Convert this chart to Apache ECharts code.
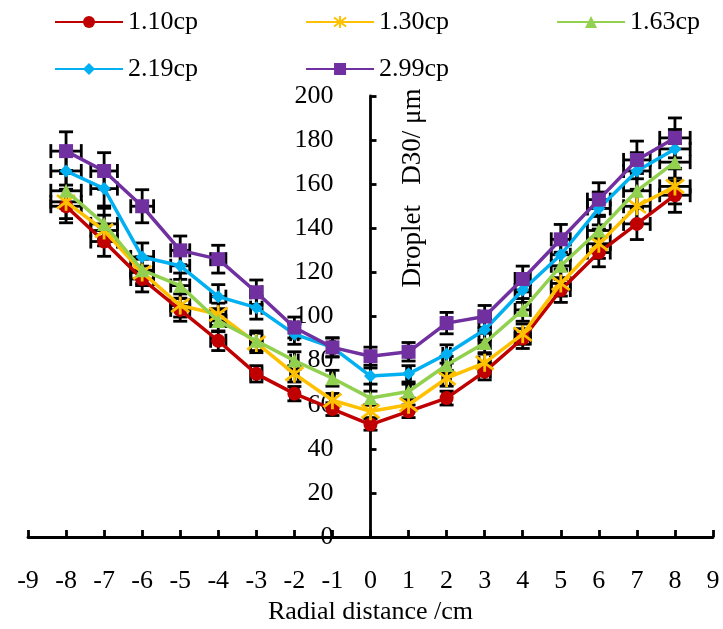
<!DOCTYPE html>
<html>
<head>
<meta charset="utf-8">
<script src="https://cdn.jsdelivr.net/npm/echarts@6/dist/echarts.min.js"></script>
<style>html,body{margin:0;padding:0;background:#fff;}#c{width:723px;height:629px;}</style>
</head>
<body>
<div id="c"></div>
<script>
// ---- data ----
const xs = [-8,-7,-6,-5,-4,-3,-2,-1,0,1,2,3,4,5,6,7,8];
const v110 = [150,134,117,103,89,74,65,58,51,57,63,75,90,112,129,142,155];
const v130 = [152,139,120,105,101,88,74,62,57,60,72,79,92,115,133,150,159];
const v163 = [157,142,121,114,98,89,80,72,63,66,78,88,103,123,139,157,170];
const v219 = [166,158,127,123,109,104,92,86,73,74,83,94,112,128,149,166,176];
const v299 = [175,166,150,130,126,111,95,86,82,84,97,100,117,135,153,171,181];
const seriesNames = ['1.10cp','1.30cp','1.63cp','2.19cp','2.99cp'];
const xTicks = [-9,-8,-7,-6,-5,-4,-3,-2,-1,0,1,2,3,4,5,6,7,8,9];
const yTicks = [0,20,40,60,80,100,120,140,160,180,200];
const errPct = 0.05; // percentage error bars (both directions)

const FONT = 'Liberation Serif';
const FS = 26;
const colors = ['#C00000','#FFC000','#92D050','#00B0F0','#7030A0'];
const starPath = 'path://M0,-10 L0,10 M-7.5,-7.5 L7.5,7.5 M-7.5,7.5 L7.5,-7.5';
const symbols = ['circle', starPath, 'triangle', 'diamond', 'rect'];
const symSizes = [14, 18, 14, 13, 14];
const allVals = [v110, v130, v163, v219, v299];

const W = 723, H = 629;
const gridLeft = 28, gridRight = 10, gridTop = 96, gridBottom = 92;

function errRender(params, api) {
  const x = api.value(0), y = api.value(1);
  const ex = Math.abs(x) * errPct, ey = y * errPct;
  const c = api.coord([x, y]);
  const top = api.coord([x, y + ey])[1];
  const bot = api.coord([x, y - ey])[1];
  const l = api.coord([x - ex, y])[0];
  const r = api.coord([x + ex, y])[0];
  const cap = 7;
  const st = {stroke: '#000', lineWidth: 2.8};
  const ln = (x1, y1, x2, y2) => ({type: 'line', shape: {x1, y1, x2, y2}, style: st});
  return {type: 'group', children: [
    ln(c[0], top, c[0], bot),
    ln(c[0] - cap, top, c[0] + cap, top),
    ln(c[0] - cap, bot, c[0] + cap, bot),
    ln(l, c[1], r, c[1]),
    ln(l, c[1] - cap, l, c[1] + cap),
    ln(r, c[1] - cap, r, c[1] + cap)
  ]};
}

const series = [];
allVals.forEach((vals, i) => {
  const data = xs.map((x, k) => [x, vals[k]]);
  series.push({
    name: seriesNames[i] + ' err', type: 'custom', renderItem: errRender,
    data: data, encode: {x: 0, y: 1}, z: 2, silent: true, clip: false
  });
});
allVals.forEach((vals, i) => {
  const data = xs.map((x, k) => [x, vals[k]]);
  const s = {
    name: seriesNames[i], type: 'line', data: data, z: 3 + i,
    symbol: symbols[i], symbolSize: symSizes[i], showAllSymbol: true,
    lineStyle: {color: colors[i], width: 3.5},
    itemStyle: {color: colors[i], opacity: 1},
    emphasis: {disabled: true}
  };
  if (i === 1) {
    s.itemStyle = {color: colors[i], borderColor: colors[i], borderWidth: 2.8};
  }
  series.push(s);
});

const legendBase = {
  itemWidth: 68, itemHeight: 15, itemGap: 107, padding: 0,
  textStyle: {fontFamily: FONT, fontSize: FS, color: '#000'},
  selectedMode: false
};

// y axis sits at x = 0 (middle of symmetric x range)
const yOffset = -(W - gridLeft - gridRight) / 2;

const chart = echarts.init(document.getElementById('c'), null, {renderer: 'canvas'});
chart.setOption({
  animation: false,
  backgroundColor: '#fff',
  legend: [
    Object.assign({}, legendBase, {data: seriesNames.slice(0, 3), left: 54, top: 9}),
    Object.assign({}, legendBase, {data: seriesNames.slice(3), left: 54, top: 56})
  ],
  grid: {left: gridLeft, right: gridRight, top: gridTop, bottom: gridBottom,
         containLabel: false, outerBoundsMode: 'none'},
  xAxis: {
    type: 'value', min: xTicks[0], max: xTicks[xTicks.length - 1], interval: 1,
    axisLine: {onZero: true, lineStyle: {color: '#000', width: 2.8}},
    axisTick: {inside: true, length: 7, lineStyle: {color: '#000', width: 2.8}},
    axisLabel: {margin: 31, fontFamily: FONT, fontSize: FS, color: '#000'},
    splitLine: {show: false},
    name: 'Radial distance /cm', nameLocation: 'middle', nameGap: 58,
    nameTextStyle: {fontFamily: FONT, fontSize: FS, color: '#000'}
  },
  yAxis: {
    type: 'value', min: yTicks[0], max: yTicks[yTicks.length - 1], interval: 20,
    offset: yOffset,
    axisLine: {onZero: false, lineStyle: {color: '#000', width: 2.8}},
    axisTick: {inside: true, length: 6, lineStyle: {color: '#000', width: 2.8}},
    axisLabel: {margin: 37, fontFamily: FONT, fontSize: FS, color: '#000'},
    splitLine: {show: false}
  },
  graphic: [{
    type: 'text', x: 413, y: 188, rotation: Math.PI / 2,
    style: {text: 'Droplet   D30/ μm', fontFamily: FONT, fontSize: 27, fill: '#000',
            textAlign: 'center', textVerticalAlign: 'middle'}
  }],
  series: series
});
</script>
</body>
</html>
